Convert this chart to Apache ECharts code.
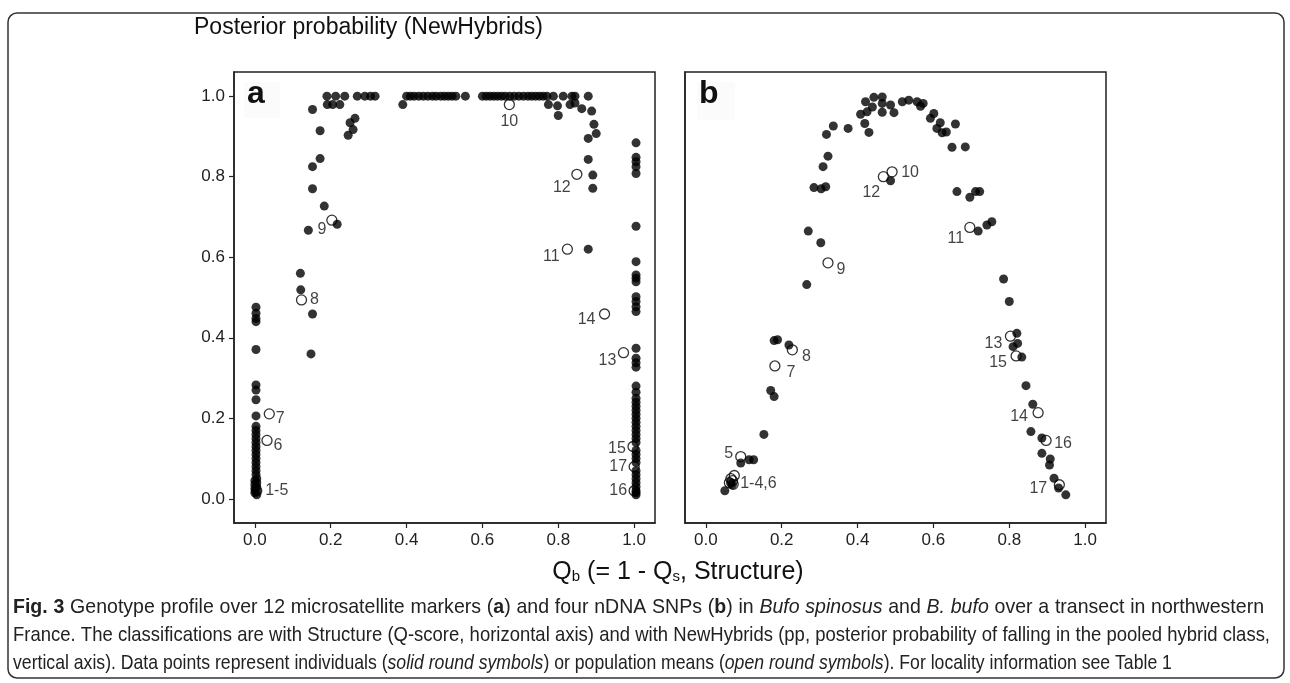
<!DOCTYPE html>
<html><head><meta charset="utf-8">
<script src="https://cdn.jsdelivr.net/npm/echarts@6/dist/echarts.min.js"></script>
<style>html,body{margin:0;padding:0;background:#fff}#c{width:1290px;height:683px}</style>
</head><body><div id="c"></div>
<script>
// ---------- DATA ----------
const xTicks = [0, 0.2, 0.4, 0.6, 0.8, 1.0];
const yTicks = [0, 0.2, 0.4, 0.6, 0.8, 1.0];

// Panel a: individuals (solid symbols) [Qb, pp]
const aIndividuals = [
  [0.19,1.0],[0.213,1.0],[0.237,1.0],[0.27,1.0],[0.29,1.0],[0.305,1.0],[0.317,1.0],
  [0.40,1.0],[0.41,1.0],[0.42,1.0],[0.432,1.0],[0.444,1.0],[0.456,1.0],[0.468,1.0],[0.478,1.0],[0.49,1.0],[0.50,1.0],[0.51,1.0],[0.52,1.0],[0.53,1.0],[0.555,1.0],
  [0.60,1.0],[0.61,1.0],[0.62,1.0],[0.63,1.0],[0.64,1.0],[0.65,1.0],[0.66,1.0],[0.672,1.0],[0.684,1.0],[0.696,1.0],[0.708,1.0],[0.72,1.0],[0.73,1.0],[0.74,1.0],[0.75,1.0],[0.76,1.0],[0.77,1.0],[0.787,1.0],[0.813,1.0],[0.836,1.0],[0.844,1.0],[0.879,1.0],
  [0.191,0.979],[0.205,0.979],[0.224,0.979],[0.39,0.979],
  [0.152,0.967],[0.172,0.914],[0.264,0.945],[0.251,0.934],[0.259,0.917],[0.246,0.903],
  [0.172,0.845],[0.152,0.825],[0.152,0.770],[0.183,0.727],[0.217,0.682],[0.141,0.667],
  [0.12,0.56],[0.121,0.519],[0.152,0.459],[0.148,0.360],
  [0.774,0.979],[0.798,0.976],[0.80,0.952],[0.831,0.979],[0.844,0.983],[0.862,0.969],[0.888,0.963],[0.894,0.930],[0.90,0.907],[0.879,0.895],[0.879,0.843],
  [0.891,0.804],[0.891,0.771],[0.879,0.620],
  [0.003,0.476],[0.003,0.461],[0.003,0.448],[0.003,0.44],[0.003,0.371],[0.003,0.283],[0.003,0.27],[0.003,0.246],[0.003,0.206],
  [0.003,0.18],[0.003,0.17],[0.003,0.16],[0.003,0.15],[0.003,0.14],[0.003,0.13],[0.003,0.12],[0.003,0.11],[0.003,0.10],[0.003,0.09],[0.003,0.08],[0.003,0.07],[0.003,0.06],
  [0.005,0.05],[0.0,0.045],[0.005,0.04],[0.0,0.035],[0.005,0.03],[0.0,0.025],[0.005,0.02],[0.0,0.015],[0.005,0.01],
  [1.005,0.884],[1.005,0.848],[1.005,0.837],[1.005,0.825],[1.005,0.808],[1.005,0.677],[1.005,0.589],[1.005,0.556],[1.005,0.548],[1.005,0.539],
  [1.005,0.502],[1.005,0.49],[1.005,0.477],[1.005,0.465],[1.005,0.374],[1.005,0.349],[1.005,0.338],[1.005,0.327],
  [1.005,0.28],[1.005,0.265],[1.005,0.25],[1.005,0.24],[1.005,0.23],[1.005,0.22],[1.005,0.21],[1.005,0.20],[1.005,0.19],[1.005,0.18],
  [1.005,0.17],[1.005,0.16],[1.005,0.15],[1.005,0.14],[1.005,0.12],[1.005,0.11],[1.005,0.10],[1.005,0.09],[1.005,0.07],[1.005,0.06],
  [1.005,0.05],[1.005,0.04],[1.005,0.03],[1.005,0.02],[1.005,0.015],[1.005,0.01]
];
// Panel a: population means (open symbols) [Qb, pp, locality]
const aPopulations = [
  [0.005,0.02,'1-5'],[0.032,0.145,'6'],[0.038,0.211,'7'],[0.123,0.494,'8'],[0.203,0.692,'9'],
  [0.671,0.979,'10'],[0.824,0.62,'11'],[0.849,0.806,'12'],[0.972,0.363,'13'],[0.922,0.459,'14'],
  [0.997,0.13,'15'],[1.0,0.02,'16'],[1.0,0.08,'17']
];

// Panel b: individuals
const bIndividuals = [
  [0.421,0.986],[0.443,0.997],[0.465,0.998],[0.465,0.982],[0.487,0.978],[0.439,0.973],[0.425,0.961],[0.408,0.955],[0.465,0.960],[0.496,0.959],
  [0.419,0.932],[0.43,0.910],[0.518,0.986],[0.535,0.990],[0.557,0.986],[0.573,0.982],[0.566,0.975],[0.601,0.957],[0.592,0.945],[0.618,0.934],
  [0.609,0.920],[0.623,0.909],[0.634,0.911],[0.658,0.931],[0.649,0.873],[0.684,0.874],[0.375,0.920],[0.336,0.926],[0.318,0.905],[0.322,0.851],
  [0.309,0.825],[0.285,0.773],[0.304,0.770],[0.316,0.775],[0.27,0.665],[0.303,0.636],[0.487,0.790],[0.662,0.763],[0.696,0.749],[0.711,0.763],
  [0.722,0.763],[0.718,0.665],[0.741,0.680],[0.754,0.688],
  [0.266,0.532],[0.18,0.393],[0.189,0.395],[0.219,0.382],[0.171,0.269],[0.18,0.254],[0.153,0.160],
  [0.785,0.546],[0.80,0.490],[0.820,0.411],[0.822,0.386],[0.81,0.378],[0.833,0.352],[0.844,0.281],[0.862,0.235],[0.857,0.167],
  [0.886,0.151],[0.886,0.113],[0.908,0.099],[0.906,0.084],[0.918,0.051],[0.93,0.027],[0.949,0.010],
  [0.092,0.089],[0.114,0.097],[0.126,0.097],[0.05,0.02],[0.065,0.04],[0.07,0.035]
];
// Panel b: population means
const bPopulations = [
  [0.07,0.045,'1-4,6'],[0.062,0.04,''],[0.075,0.058,''],[0.066,0.05,''],[0.072,0.036,''],
  [0.092,0.105,'5'],[0.182,0.33,'7'],[0.228,0.37,'8'],[0.322,0.586,'9'],[0.491,0.812,'10'],
  [0.696,0.674,'11'],[0.468,0.80,'12'],[0.803,0.404,'13'],[0.876,0.214,'14'],[0.818,0.355,'15'],
  [0.897,0.145,'16'],[0.932,0.035,'17']
];

const yAxisTitle = 'Posterior probability (NewHybrids)';
const captionLines = [
  '{b|Fig. 3} Genotype profile over 12 microsatellite markers ({b|a}) and four nDNA SNPs ({b|b}) in {i|Bufo spinosus} and {i|B. bufo} over a transect in northwestern',
  'France. The classifications are with Structure (Q-score, horizontal axis) and with NewHybrids (pp, posterior probability of falling in the pooled hybrid class,',
  'vertical axis). Data points represent individuals ({i|solid round symbols}) or population means ({i|open round symbols}). For locality information see Table 1'
];

// ---------- LAYOUT / STYLE ----------
const FONT = '"Liberation Sans", Arial, sans-serif';
const labelOffsetA = {'1-5':[20,0],'6':[11,5],'7':[11,5],'8':[13,0],'9':[-10,9],'10':[0,17],'11':[-16,7],
  '12':[-15,13],'13':[-16,8],'14':[-18,6],'15':[-16,2],'16':[-16,0],'17':[-16,0]};
const labelOffsetB = {'1-4,6':[26,3],'':[0,0],'5':[-12,-3],'7':[16,7],'8':[14,7],'9':[13,7],'10':[18,1],'11':[-14,11],
  '12':[-12,16],'13':[-17,7],'14':[-19,4],'15':[-18,7],'16':[17,3],'17':[-21,4]};

function openData(arr, offsets){
  return arr.map(p => ({
    value: [p[0], p[1]],
    label: {show: p[2] !== '', formatter: p[2], position: 'inside', offset: offsets[p[2]] || [0,0],
      color: '#111', fontSize: 16, fontFamily: FONT}
  }));
}

// ---- caption layout (condensed, justified lines) ----
const CAP_SIZE = 21, CAP_COLOR = '#222';
const capLayout = [ {y: 607, k: 0.93, right: 1264}, {y: 635, k: 0.88, right: 1270}, {y: 663, k: 0.84, right: null} ];
const CAP_LEFT = 13;
const mctx = document.createElement('canvas').getContext('2d');
function pieceFont(s){ return (s === 'i' ? 'italic ' : 'normal ') + (s === 'b' ? 'bold ' : 'normal ') + CAP_SIZE + 'px ' + FONT; }
function parseWords(t){
  const pieces = []; const re = /\{(b|i)\|([^}]*)\}|([^{]+)/g; let m;
  while ((m = re.exec(t))) { if (m[1]) pieces.push({s: m[1], t: m[2]}); else pieces.push({s: 'n', t: m[3]}); }
  const words = []; let cur = [];
  pieces.forEach(p => {
    p.t.split(' ').forEach((w, idx) => {
      if (idx > 0) { if (cur.length) words.push(cur); cur = []; }
      if (w) cur.push({s: p.s, t: w});
    });
  });
  if (cur.length) words.push(cur);
  return words;
}
function natWidth(w){ return w.reduce((a, p) => { mctx.font = pieceFont(p.s); return a + mctx.measureText(p.t).width; }, 0); }
function wordMarkup(w){ return w.map(p => p.s === 'n' ? p.t : '{' + p.s + '|' + p.t + '}').join(''); }
const capRich = {b: {fontWeight: 'bold', fontSize: CAP_SIZE, fontFamily: FONT, fill: CAP_COLOR},
                 i: {fontStyle: 'italic', fontSize: CAP_SIZE, fontFamily: FONT, fill: CAP_COLOR}};
const captionGraphics = [];
captionLines.forEach((line, li) => {
  const L = capLayout[li];
  const words = parseWords(line);
  const widths = words.map(w => natWidth(w) * L.k);
  mctx.font = pieceFont('n');
  let gap = mctx.measureText(' ').width * L.k;
  if (L.right) {
    const sum = widths.reduce((a, b) => a + b, 0);
    gap = (L.right - CAP_LEFT - sum) / (words.length - 1);
  }
  let x = CAP_LEFT;
  words.forEach((w, wi) => {
    captionGraphics.push({type: 'text', x: x, y: L.y, scaleX: L.k, silent: true, style: {
      text: wordMarkup(w), verticalAlign: 'middle', fontSize: CAP_SIZE, fontFamily: FONT, fill: CAP_COLOR, rich: capRich}});
    x += widths[wi] + gap;
  });
});

const grids = [
  {left: 234, top: 72, width: 421, height: 451, show: true, borderColor: '#222', borderWidth: 1.5, backgroundColor: 'transparent'},
  {left: 685, top: 72, width: 421, height: 451, show: true, borderColor: '#222', borderWidth: 1.5, backgroundColor: 'transparent'}
];
const axisLineStyle = {show: true, onZero: false, lineStyle: {color: '#222', width: 1.5}};
function xAx(i){
  return {type: 'value', gridIndex: i, min: -0.055, max: 1.055,
    splitLine: {show: false}, axisLine: axisLineStyle,
    axisTick: {show: true, length: 5, customValues: xTicks, lineStyle: {color: '#222', width: 1.2}},
    axisLabel: {customValues: xTicks, formatter: v => v.toFixed(1), margin: 9, color: '#222', fontSize: 17, fontFamily: FONT}};
}
function yAx(i, show){
  return {type: 'value', gridIndex: i, min: -0.06, max: 1.06,
    splitLine: {show: false}, axisLine: axisLineStyle,
    axisTick: {show: show, length: 5, customValues: yTicks, lineStyle: {color: '#222', width: 1.2}},
    axisLabel: {show: show, customValues: yTicks, formatter: v => v.toFixed(1), margin: 9, color: '#222', fontSize: 17, fontFamily: FONT}};
}
const solidStyle = {color: '#000'};
const openStyle = {color: 'rgba(0,0,0,0)', borderColor: '#000', borderWidth: 1.3};

const option = {
  animation: false,
  backgroundColor: '#fff',
  grid: grids,
  xAxis: [xAx(0), xAx(1)],
  yAxis: [yAx(0, true), yAx(1, false)],
  series: [
    {type: 'scatter', xAxisIndex: 0, yAxisIndex: 0, symbolSize: 9, itemStyle: solidStyle, data: aIndividuals, silent: true},
    {type: 'scatter', xAxisIndex: 0, yAxisIndex: 0, symbolSize: 10, itemStyle: openStyle, data: openData(aPopulations, labelOffsetA), silent: true},
    {type: 'scatter', xAxisIndex: 1, yAxisIndex: 1, symbolSize: 9, itemStyle: solidStyle, data: bIndividuals, silent: true},
    {type: 'scatter', xAxisIndex: 1, yAxisIndex: 1, symbolSize: 10, itemStyle: openStyle, data: openData(bPopulations, labelOffsetB), silent: true}
  ],
  graphic: [
    {type: 'rect', shape: {x: 8, y: 13, width: 1276, height: 665, r: 9}, style: {fill: 'none', stroke: '#333', lineWidth: 1.5}, z: -1},
    {type: 'rect', shape: {x: 244, y: 82, width: 36, height: 36}, style: {fill: '#fbfbfb'}, z: -1},
    {type: 'rect', shape: {x: 697, y: 82, width: 38, height: 38}, style: {fill: '#fbfbfb'}, z: -1},
    {type: 'text', left: 194, top: 16, style: {text: yAxisTitle, font: '23px ' + FONT, fill: '#111'}},
    {type: 'text', left: 247, top: 78, style: {text: 'a', font: 'bold 32px ' + FONT, fill: '#111'}},
    {type: 'text', left: 699, top: 78, style: {text: 'b', font: 'bold 32px ' + FONT, fill: '#111'}},
    {type: 'text', x: 678, y: 572, style: {
      text: '{q|Q}{s|b}{q| (= 1 - Q}{s|s}{q|, Structure)}', align: 'center', verticalAlign: 'middle',
      rich: {q: {fontSize: 25, fontFamily: FONT, fill: '#111'}, s: {fontSize: 15, fontFamily: FONT, fill: '#111', padding: [9,0,0,0]}}}},
    ...captionGraphics
  ]
};
const chart = echarts.init(document.getElementById('c'));
chart.setOption(option);
</script>
</body></html>
